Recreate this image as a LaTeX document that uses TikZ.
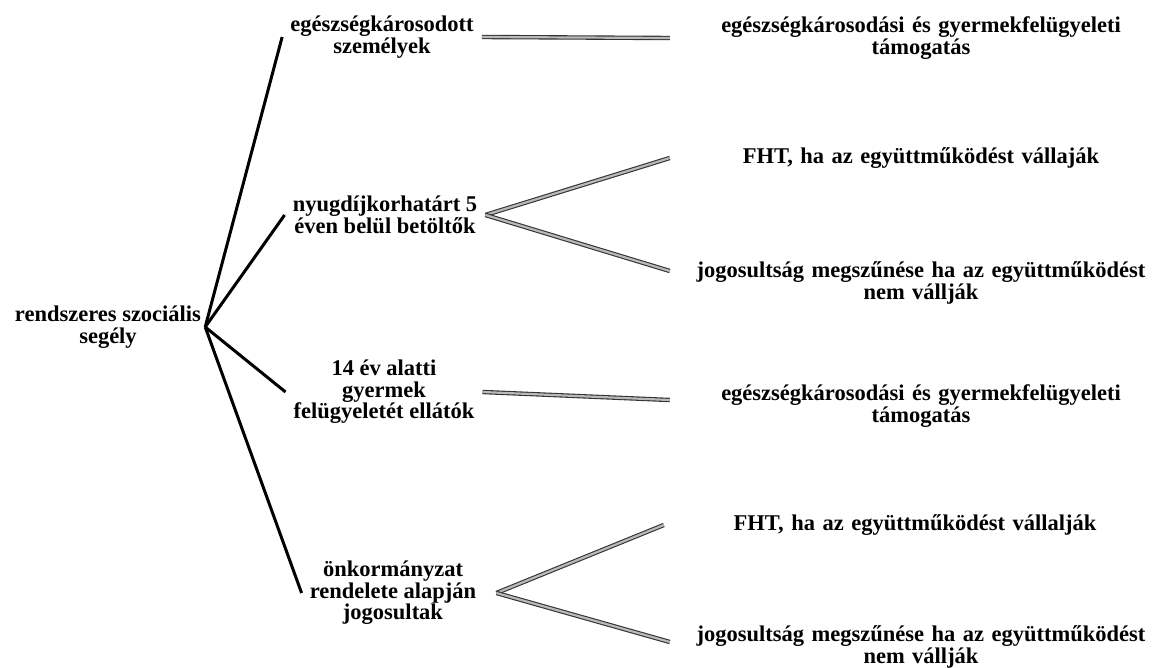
\documentclass[tikz,border=0pt]{standalone}
\usepackage{fontspec}
\setmainfont{Liberation Serif}
\usepackage{tikz}
\usetikzlibrary{shapes,arrows}

\begin{document}
\begin{tikzpicture}[x=1pt,y=-1pt,font=\fontsize{22.5}{21.5}\selectfont\bfseries]
    \tikzstyle{root} = [align=center, inner sep=4pt]
    \tikzstyle{group} = [align=center, inner xsep=8pt, inner ysep=2pt]
    \tikzstyle{outcome} = [align=center, text width=502pt, inner sep=0pt]
    \tikzstyle{trunk} = [draw=black, line width=3pt]
    \tikzstyle{twig} = [draw=black!80, double=gray!55, line width=1.1pt, double distance=2.2pt]
    \useasboundingbox (0,0) rectangle (1154,668);
    %Creating Root and Group Nodes
    \node [root] at (108,327) (rss) {rendszeres szociális\\segély};
    \node [group] at (382,37) (egk) {egészségkárosodott\\személyek};
    \node [group] at (385,215) (nyk) {nyugdíjkorhatárt 5\\éven belül betöltők};
    \node [group] at (384,392) (gyf) {14 év alatti\\gyermek\\felügyeletét ellátók};
    \node [group] at (393,593) (onk) {önkormányzat\\rendelete alapján\\jogosultak};
    %Creating Outcome Nodes
    \node [outcome] at (921,38) (egkt) {egészségkárosodási és gyermekfelügyeleti\\támogatás};
    \node [outcome] at (921,158) (nykf) {FHT, ha az együttműködést vállaják};
    \node [outcome] at (921,283) (nykj) {jogosultság megszűnése ha az együttműködést\\nem vállják};
    \node [outcome] at (921,406) (gyft) {egészségkárosodási és gyermekfelügyeleti\\támogatás};
    \node [outcome] at (915,525) (onkf) {FHT, ha az együttműködést vállalják};
    \node [outcome] at (921,647) (onkj) {jogosultság megszűnése ha az együttműködést\\nem vállják};
    %Conecting Root to Groups
    \draw [trunk] (rss.east) -- (egk.west);
    \draw [trunk] (rss.east) -- (nyk.west);
    \draw [trunk] (rss.east) -- (gyf.west);
    \draw [trunk] (rss.east) -- (onk.west);
    %Conecting Groups to Outcomes
    \draw [twig] (egk.east) -- (egkt.west);
    \draw [twig] (nyk.east) -- (nykf.west);
    \draw [twig] (nyk.east) -- ([yshift=12pt]nykj.west);
    \draw [twig] (gyf.east) -- ([yshift=6pt]gyft.west);
    \draw [twig] ([xshift=12pt]onk.east) -- (onkf.west);
    \draw [twig] ([xshift=12pt]onk.east) -- ([yshift=5pt]onkj.west);
\end{tikzpicture}
\end{document}
